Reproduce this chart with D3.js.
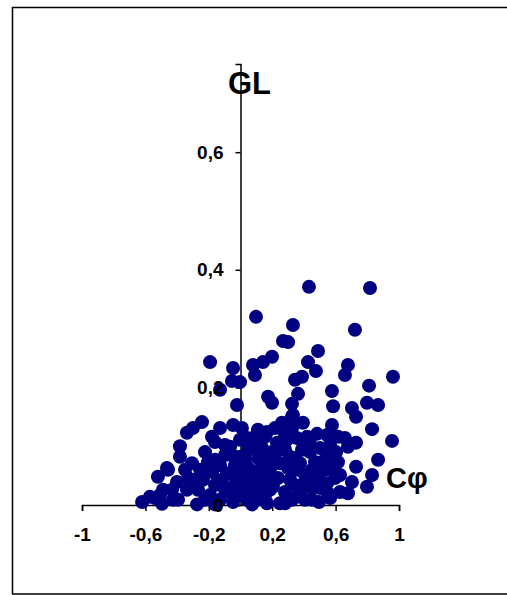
<!DOCTYPE html>
<html>
<head>
<meta charset="utf-8">
<script src="https://cdn.jsdelivr.net/npm/d3@7"></script>
<style>
  body { margin: 0; background: #fff; overflow: hidden; }
  svg { display: block; font-family: "Liberation Sans", Arial, sans-serif; }
</style>
</head>
<body>
<div id="chart"></div>
<script>
// Cφ values (x)
var cphi = [
  0.432, 0.817, 0.098, 0.331, 0.722, 0.268, 0.300, 0.489, 0.199, 0.142,
  0.079, -0.192, -0.047, 0.426, 0.476, 0.678, 0.659, 0.962, 0.388, 0.344,
  0.091, -0.054, -0.003, -0.129, 0.811, 0.577, 0.174, 0.199, 0.363, 0.325,
  0.584, 0.798, 0.868, 0.703, 0.729, -0.022, 0.325, 0.262, 0.394, 0.577,
  0.830, 0.956, -0.243, -0.300, -0.338, -0.047, 0.009, -0.382, -0.161, -0.066,
  0.091, -0.224, -0.382, -0.306, -0.464, -0.521, -0.205, -0.129, -0.401, -0.489,
  -0.338, -0.571, -0.621, -0.495, -0.394, -0.274, -0.237, -0.161, -0.085, -0.047,
  -0.129, -0.047, 0.041, 0.041, 0.079, -0.539, -0.457, -0.426, 0.659, 0.615,
  0.546, 0.483, 0.420, 0.356, 0.281, 0.230, 0.155, 0.123, 0.041, 0.729,
  0.868, 0.729, 0.830, 0.703, 0.798, 0.628, 0.678, 0.495, 0.451, 0.546,
  0.577, 0.546, 0.451, 0.388, 0.438, 0.356, 0.312, 0.249, 0.249, 0.356,
  0.167, 0.104, 0.205, 0.142, 0.060, -0.003, -0.022, 0.438, 0.167, 0.218,
  0.293, 0.394, 0.678, -0.178, -0.117, -0.066, -0.192, 0.028, 0.091, 0.155,
  0.281, 0.312, 0.388, 0.375, 0.489, 0.514, 0.186, 0.110, 0.199, 0.281,
  0.047, -0.035, -0.098, 0.136, 0.237, -0.003, 0.407, 0.565, 0.596, 0.325,
  0.073, -0.161, -0.331, -0.268, -0.432, 0.136, 0.325, 0.502, 0.603, 0.565,
  -0.129, -0.180, 0.331, -0.224, -0.098, -0.003, 0.060, 0.136, 0.218, 0.300,
  0.344, 0.407, 0.470, 0.533, 0.615, 0.628, 0.502, 0.281, 0.186, 0.091,
  0.028, -0.054, -0.161, -0.098, -0.003, 0.073, 0.249, 0.344, 0.438, 0.268,
  0.110, -0.255, -0.287, -0.350, -0.508, -0.047, 0.174, 0.375, 0.451, 0.552,
  0.155
];

// GL values (y)
var gl = [
  0.371, 0.369, 0.320, 0.306, 0.298, 0.279, 0.277, 0.262, 0.252, 0.243,
  0.238, 0.243, 0.233, 0.243, 0.228, 0.238, 0.221, 0.218, 0.218, 0.213,
  0.221, 0.211, 0.209, 0.196, 0.203, 0.194, 0.184, 0.174, 0.189, 0.172,
  0.168, 0.174, 0.170, 0.165, 0.150, 0.170, 0.150, 0.140, 0.140, 0.136,
  0.129, 0.109, 0.141, 0.131, 0.123, 0.136, 0.131, 0.100, 0.107, 0.099,
  0.116, 0.090, 0.082, 0.071, 0.063, 0.048, 0.073, 0.068, 0.039, 0.026,
  0.026, 0.014, 0.005, 0.002, 0.009, 0.001, 0.043, 0.034, 0.054, 0.031,
  0.009, 0.005, 0.009, 0.065, 0.043, 0.012, 0.060, 0.009, 0.114, 0.116,
  0.119, 0.121, 0.116, 0.114, 0.116, 0.106, 0.116, 0.106, 0.114, 0.106,
  0.077, 0.065, 0.051, 0.039, 0.031, 0.022, 0.020, 0.005, 0.029, 0.037,
  0.068, 0.082, 0.060, 0.094, 0.090, 0.060, 0.082, 0.071, 0.003, 0.014,
  0.003, 0.009, 0.031, 0.048, 0.060, 0.082, 0.037, 0.037, 0.124, 0.131,
  0.111, 0.107, 0.099, 0.056, 0.043, 0.022, 0.017, 0.026, 0.022, 0.017,
  0.022, 0.043, 0.034, 0.071, 0.051, 0.073, 0.060, 0.080, 0.090, 0.094,
  0.094, 0.068, 0.085, 0.034, 0.046, 0.051, 0.009, 0.012, 0.046, 0.009,
  0.001, 0.001, 0.046, 0.026, 0.026, 0.097, 0.131, 0.097, 0.090, 0.102,
  0.131, 0.116, 0.153, 0.009, 0.026, 0.017, 0.039, 0.068, 0.077, 0.063,
  0.034, 0.051, 0.073, 0.060, 0.073, 0.051, 0.029, 0.003, 0.026, 0.051,
  0.077, 0.085, 0.077, 0.102, 0.111, 0.099, 0.094, 0.080, 0.106, 0.128,
  0.128, 0.060, 0.043, 0.060, 0.017, 0.051, 0.043, 0.022, 0.009, 0.020,
  0.080
];

var xTicks = [-1, -0.6, -0.2, 0.2, 0.6, 1];
var yTicks = [0, 0.2, 0.4, 0.6];

var points = cphi.map(function(d, i) { return { x: d, y: gl[i] }; });

var width = 507, height = 595;
var locale = d3.formatLocale({ decimal: ",", thousands: " ", grouping: [3], currency: ["", ""], minus: "-" });
var fmt = locale.format("~g");

var svg = d3.select('#chart')
    .append('svg')
    .attr('width', width)
    .attr('height', height);

// outer frame: top, left and bottom edges (the right side runs off the page)
svg.append('path')
    .attr('d', 'M' + (width + 10) + ',7.5H12.5V594H' + (width + 10))
    .attr('fill', 'none')
    .attr('stroke', '#000')
    .attr('stroke-width', 1.5);

var x = d3.scaleLinear().domain([-1, 1]).range([82, 399]);
var y = d3.scaleLinear().domain([0, 0.75]).range([505, 64]);

var xAxis = d3.axisBottom(x).tickValues(xTicks).tickSize(6).tickPadding(17).tickFormat(fmt);
var yAxis = d3.axisLeft(y).tickValues(yTicks).tickSize(5).tickPadding(12).tickFormat(fmt);

// axis lines and ticks go under the dots
var lower = svg.append('g');
lower.append('g').attr('transform', 'translate(0,' + y(0) + ')').call(xAxis);
lower.append('g').attr('transform', 'translate(' + x(0) + ',0)').call(yAxis);
lower.selectAll('text').remove();
lower.selectAll('path, line').attr('stroke', '#000').attr('stroke-width', 1.5);

// dots
svg.append('g')
    .selectAll('circle')
    .data(points)
    .enter().append('circle')
    .attr('cx', function(d) { return x(d.x); })
    .attr('cy', function(d) { return y(d.y); })
    .attr('r', 7)
    .attr('fill', '#000080');

// tick labels sit on top of the dots
var upper = svg.append('g');
upper.append('g').attr('transform', 'translate(0,' + y(0) + ')').call(xAxis);
upper.append('g').attr('transform', 'translate(' + x(0) + ',0)').call(yAxis);
upper.selectAll('path, line').remove();
upper.selectAll('text')
    .attr('fill', '#000')
    .style('font-size', '19px')
    .style('font-weight', 'bold')
    .style('font-family', '"Liberation Sans", Arial, sans-serif');

// axis titles
svg.append('text')
    .attr('x', 228).attr('y', 94)
    .style('font-size', '31px')
    .style('font-weight', 'bold')
    .text('GL');

svg.append('text')
    .attr('x', 386).attr('y', 488)
    .style('font-size', '29px')
    .style('font-weight', 'bold')
    .text('Cφ');
</script>
</body>
</html>
